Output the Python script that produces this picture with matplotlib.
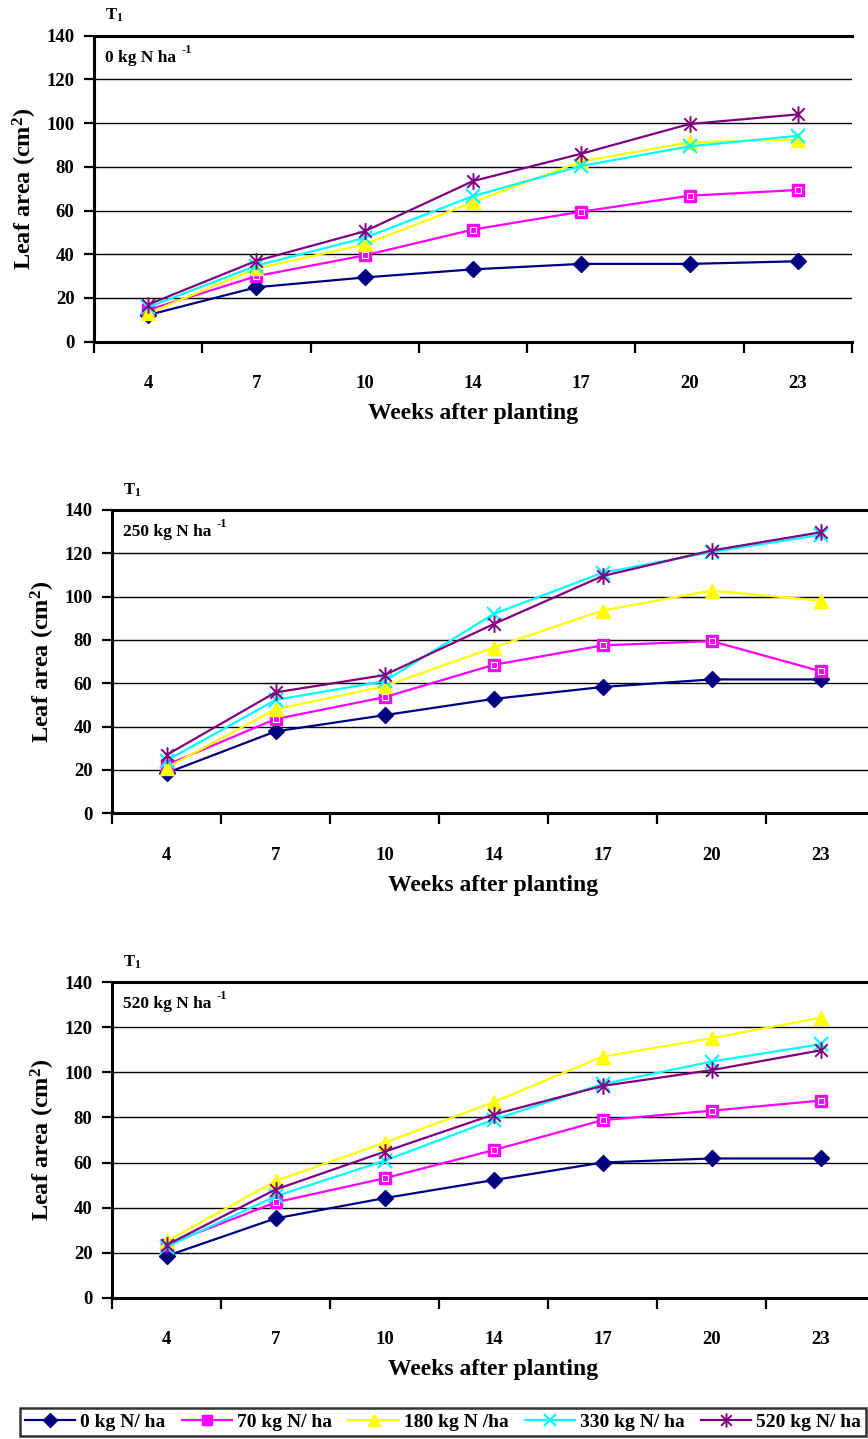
import numpy as np
import matplotlib
matplotlib.use("Agg")
import matplotlib.pyplot as plt
from matplotlib.path import Path

plt.rcParams['font.family'] = ['Liberation Serif', 'DejaVu Serif']
plt.rcParams['font.weight'] = 'bold'
plt.rcParams['axes.labelweight'] = 'bold'
plt.rcParams['mathtext.fontset'] = 'custom'
plt.rcParams['mathtext.rm'] = 'Liberation Serif:bold'
plt.rcParams['mathtext.bf'] = 'Liberation Serif:bold'
plt.rcParams['mathtext.it'] = 'Liberation Serif:bold'

# weeks after planting (categories)
weeks = ['4', '7', '10', '14', '17', '20', '23']

# leaf area (cm2) per fertiliser rate, one block per panel
# panel: 0 kg N ha-1
p0_n0 = [12.2, 24.9, 29.4, 33.1, 35.6, 35.6, 36.8]
p0_n70 = [14.5, 30.0, 39.5, 51.3, 59.5, 66.8, 69.4]
p0_n180 = [13.0, 33.5, 44.5, 63.8, 82.5, 91.2, 92.5]
p0_n330 = [15.8, 34.8, 47.5, 66.6, 80.4, 89.4, 94.2]
p0_n520 = [17.0, 37.0, 50.5, 73.5, 86.0, 99.6, 104.0]

# panel: 250 kg N ha-1
p250_n0 = [18.6, 37.8, 45.3, 52.8, 58.3, 61.8, 61.8]
p250_n70 = [22.3, 43.5, 53.6, 68.5, 77.5, 79.5, 65.6]
p250_n180 = [21.0, 48.0, 58.6, 76.5, 93.6, 102.8, 98.2]
p250_n330 = [24.3, 52.3, 61.0, 92.0, 111.0, 120.6, 128.5]
p250_n520 = [26.9, 55.8, 63.8, 87.3, 109.5, 121.3, 129.7]

# panel: 520 kg N ha-1
p520_n0 = [18.5, 35.2, 44.2, 52.2, 60.0, 61.8, 61.8]
p520_n70 = [23.5, 42.3, 53.0, 65.5, 78.8, 83.0, 87.5]
p520_n180 = [25.0, 51.8, 68.8, 86.8, 107.0, 115.2, 124.3]
p520_n330 = [22.6, 45.0, 60.8, 79.0, 94.8, 104.8, 112.5]
p520_n520 = [23.4, 48.0, 64.8, 81.3, 94.0, 101.0, 109.8]

panel_titles = ['0 kg N ha', '250 kg N ha', '520 kg N ha']
series_labels = ['0 kg N/ ha', '70 kg N/ ha', '180 kg N /ha', '330 kg N/ ha', '520 kg N/ ha']
panels = [
    [p0_n0, p0_n70, p0_n180, p0_n330, p0_n520],
    [p250_n0, p250_n70, p250_n180, p250_n330, p250_n520],
    [p520_n0, p520_n70, p520_n180, p520_n330, p520_n520],
]

colors = ['#000080', '#FF00FF', '#FFFF00', '#00FFFF', '#800080']

# asterisk marker: vertical bar plus an x
star = Path([(0, -1), (0, 1), (-0.75, -0.75), (0.75, 0.75), (-0.75, 0.75), (0.75, -0.75)],
            [Path.MOVETO, Path.LINETO, Path.MOVETO, Path.LINETO, Path.MOVETO, Path.LINETO])

styles = [
    dict(marker='D', ms=8.5, mfc=colors[0], mec=colors[0]),
    dict(marker='s', ms=8.5, mfc=colors[1], mec=colors[1]),
    dict(marker='^', ms=10.5, mfc=colors[2], mec=colors[2]),
    dict(marker='x', ms=10.5, mew=1.6, mfc='none', mec=colors[3]),
    dict(marker=star, ms=12, mew=1.4, mfc='none', mec=colors[4]),
]

W, H = 868, 1439
fig = plt.figure(figsize=(W / 100, H / 100), dpi=100)

# axes boxes in pixels: left, right, top (140), bottom (0)
boxes = [(94, 852, 35.7, 341.7), (112, 875, 510, 813.3), (112, 875, 982.3, 1297.7)]

x = np.arange(1, len(weeks) + 1)
handles = []
for i, (l, r, t, b) in enumerate(boxes):
    ax = fig.add_axes([l / W, 1 - b / H, (r - l) / W, (b - t) / H])
    for j, vals in enumerate(panels[i]):
        ln, = ax.plot(x, vals, color=colors[j], lw=1.6, zorder=3 + j, clip_on=False, **styles[j])
        if j == 1:
            # white inner outline on the square markers
            ax.plot(x, vals, ls='none', marker='s', ms=4.5, mfc='none', mec='white', mew=0.8,
                    zorder=3 + j, clip_on=False)
        if i == 0:
            handles.append(ln)
    ax.set_xlim(0.5, 7.5)
    ax.set_ylim(0, 140)
    ax.set_yticks(np.arange(0, 141, 20))
    ax.yaxis.grid(True, color='black', lw=1.0)
    ax.set_axisbelow(True)
    ax.set_xticks(np.arange(0.5, 7.6, 1))
    ax.set_xticklabels([])
    ax.set_xticks(x, minor=True)
    ax.set_xticklabels(weeks, minor=True)
    ax.tick_params(axis='x', which='major', length=8, width=1.6, direction='out')
    ax.tick_params(axis='x', which='minor', length=0, pad=24, labelsize=13.5)
    ax.tick_params(axis='y', length=7, width=1.6, direction='out', labelsize=13.5, pad=7)
    for s in ['left', 'bottom', 'top']:
        ax.spines[s].set_linewidth(2.2)
    ax.spines['right'].set_visible(False)

    hpx, wpx = b - t, r - l
    ax.set_xlabel('Weeks after planting', fontsize=17)
    ax.xaxis.set_label_coords(0.5, -72 / hpx)
    ax.xaxis.label.set_va('center')
    ax.set_ylabel('Leaf area (cm$^{2}$)', fontsize=17.5)
    ax.yaxis.set_label_coords(-69 / wpx, 0.5)
    ax.yaxis.label.set_va('center')

    # panel heading with a raised -1 on "ha"
    ttl = ax.text(11 / wpx, 1 - 22 / hpx, panel_titles[i], transform=ax.transAxes,
                  fontsize=12.5, ha='left', va='center')
    ax.annotate('-1', xy=(1, 1), xycoords=ttl, xytext=(4, 0), textcoords='offset points',
                fontsize=9, ha='left', va='center')
    ax.text(l / W + 0.013, 1 - (t - 20) / H, 'T$_{1}$', transform=fig.transFigure,
            fontsize=12, ha='left', va='center')

leg = fig.legend(handles, series_labels, loc='center', ncol=5, mode='expand',
                 bbox_to_anchor=(20 / W, 1 - 1437 / H, 846 / W, 30 / H),
                 fontsize=14, frameon=True, fancybox=False, handlelength=2.6,
                 handletextpad=0.25, columnspacing=0.7, borderaxespad=0, borderpad=0.25,
                 markerscale=0.85)
leg.get_frame().set_edgecolor('black')
leg.get_frame().set_linewidth(1.8)

fig.savefig('out.png', dpi=100)
